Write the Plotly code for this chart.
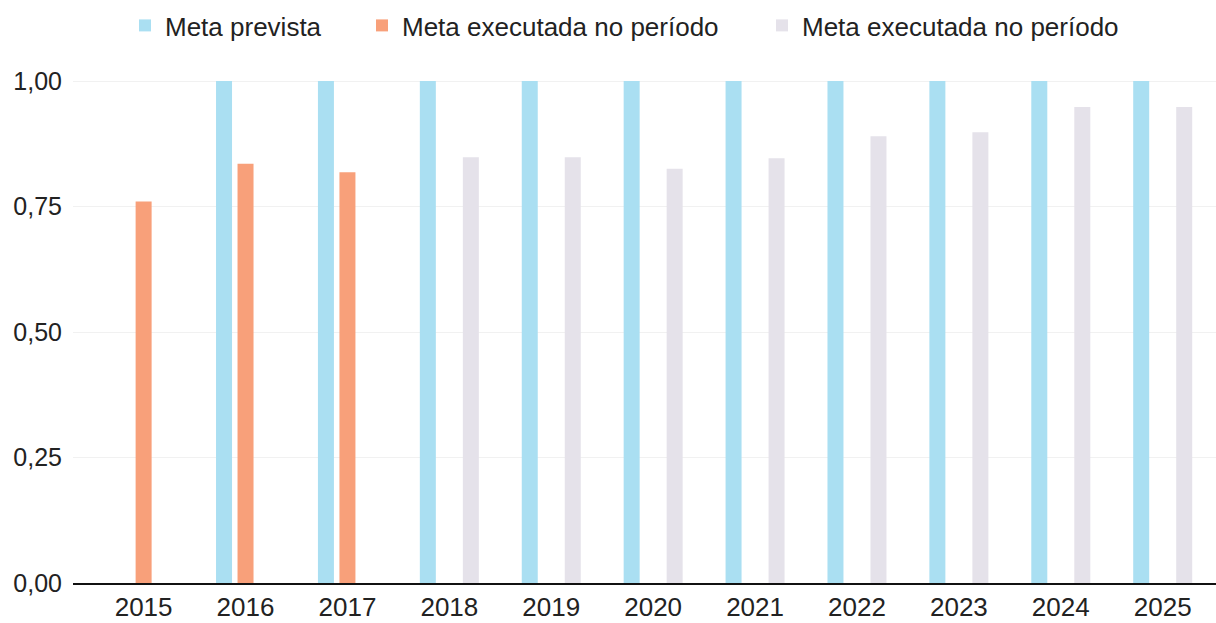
import plotly.graph_objects as go

# ---- data ----
anos = ["2015", "2016", "2017", "2018", "2019", "2020", "2021", "2022", "2023", "2024", "2025"]
meta_prevista = [None, 1.0, 1.0, 1.0, 1.0, 1.0, 1.0, 1.0, 1.0, 1.0, 1.0]
meta_executada_a = [0.76, 0.835, 0.818, None, None, None, None, None, None, None, None]
meta_executada_b = [None, None, None, 0.848, 0.848, 0.825, 0.846, 0.89, 0.898, 0.948, 0.948]
nomes = ["Meta prevista", "Meta executada no período", "Meta executada no período"]
y_ticks = [0, 0.25, 0.5, 0.75, 1.0]
y_tick_text = ["0,00", "0,25", "0,50", "0,75", "1,00"]

cores = ["#aadff2", "#f8a07a", "#e5e2ea"]
FONT = "Liberation Sans, Arial, sans-serif"
TXT = "#222222"

fig = go.Figure()
for i, (vals, nome, cor) in enumerate(zip([meta_prevista, meta_executada_a, meta_executada_b], nomes, cores)):
    fig.add_trace(go.Bar(
        x=anos, y=vals, name=nome, marker=dict(color=cor, line=dict(width=0)),
        legend="legend" if i == 0 else f"legend{i+1}", showlegend=True,
    ))

W, H = 1216, 623
L, R, T, B = 73, 0, 60, 40
pw = W - L - R
ph = H - T - B

def px_to_paper(px):
    return (px - L) / pw

legend_common = dict(
    orientation="h", yanchor="top", xanchor="left", y=1 + 58 / ph,
    font=dict(family=FONT, size=26, color=TXT), bgcolor="rgba(0,0,0,0)",
)

fig.update_layout(
    width=W, height=H,
    margin=dict(l=L, r=R, t=T, b=B, pad=0),
    paper_bgcolor="white", plot_bgcolor="white",
    barmode="group", bargap=0.367, bargroupgap=0.256,
    font=dict(family=FONT, size=25, color=TXT),
    showlegend=True,
    legend=dict(x=px_to_paper(125), **legend_common),
    legend2=dict(x=px_to_paper(362), **legend_common),
    legend3=dict(x=px_to_paper(762), **legend_common),
    xaxis=dict(
        type="category", range=[-0.693, 10.523],
        showline=True, linecolor="#111111", linewidth=1.5,
        showgrid=False, ticks="", tickfont=dict(family=FONT, size=26, color=TXT),
    ),
    yaxis=dict(
        range=[0, 1 + 21 / 502], tickvals=y_ticks, ticktext=y_tick_text,
        showgrid=True, gridcolor="#f1f1f1", gridwidth=1,
        zeroline=False, showline=False, ticks="",
        ticklabelstandoff=10,
        tickfont=dict(family=FONT, size=25, color=TXT),
    ),
)

fig.write_html("out.html", config={"displayModeBar": False},
               post_script="document.body.style.margin='0';")
